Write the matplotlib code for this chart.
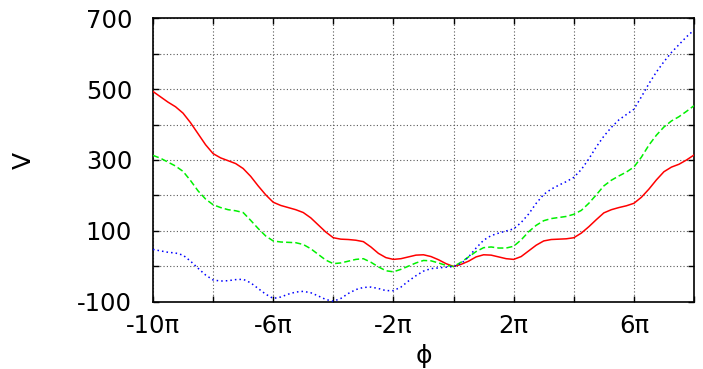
import numpy as np
import matplotlib
matplotlib.use("Agg")
import matplotlib.pyplot as plt

# phi in units of pi, every quarter pi from -10pi to 8pi
phi_over_pi = np.arange(-40, 33) / 4

v_red = [493, 478, 463, 450, 432, 405, 374, 343, 318, 306,
         298, 290, 276, 254, 227, 202, 181, 172, 166, 160,
         152, 137, 117, 97, 81, 77, 76, 74, 70, 55,
         37, 25, 20, 22, 27, 32, 33, 28, 19, 8,
         0, 6, 15, 27, 33, 32, 27, 22, 20, 28,
         44, 60, 72, 76, 77, 78, 81, 94, 112, 132,
         151, 160, 166, 171, 178, 195, 218, 244, 267, 280,
         288, 300, 314]
v_green = [313, 305, 294, 283, 268, 242, 213, 190, 174, 166,
           160, 157, 152, 130, 107, 86, 72, 69, 68, 67,
           62, 50, 34, 18, 8, 10, 15, 20, 22, 12,
           -1, -12, -15, -8, 1, 10, 17, 16, 10, 3,
           0, 12, 27, 42, 53, 55, 52, 52, 57, 75,
           98, 116, 129, 135, 138, 141, 147, 158, 178, 202,
           227, 243, 255, 266, 280, 308, 342, 370, 393, 410,
           422, 437, 453]
v_blue = [48, 44, 40, 38, 32, 15, -5, -24, -38, -41,
          -40, -37, -36, -46, -62, -78, -90, -86, -78, -72,
          -70, -74, -83, -93, -98, -90, -76, -65, -59, -58,
          -62, -68, -68, -58, -41, -26, -13, -6, -4, -2,
          0, 8, 27, 52, 74, 87, 94, 100, 106, 124,
          148, 178, 203, 218, 229, 239, 251, 273, 303, 337,
          367, 392, 413, 428, 443, 478, 515, 548, 577, 603,
          625, 647, 666]

x_tick_mult = [-10, -8, -6, -4, -2, 0, 2, 4, 6, 8]
x_tick_labels = ["-10π", "", "-6π", "", "-2π", "", "2π", "", "6π", ""]
y_ticks = [-100, 0, 100, 200, 300, 400, 500, 600, 700]
y_tick_labels = ["-100", "", "100", "", "300", "", "500", "", "700"]

plt.rcParams["font.family"] = ["DejaVu Sans"]

phi = phi_over_pi * np.pi

fig = plt.figure(figsize=(7.03, 3.69), dpi=100)
ax = fig.add_axes([0.2176, 0.1816, 0.7696, 0.7696])

ax.plot(phi, v_red, color="#ff0000", lw=1.1, ls="-", zorder=3)
ax.plot(phi, v_green, color="#00f000", lw=1.1, ls=(0, (4, 2)), zorder=3)
ax.plot(phi, v_blue, color="#0000ff", lw=1.1, ls=(0, (1, 2)), zorder=3)

ax.set_xlim(-10 * np.pi, 8 * np.pi)
ax.set_ylim(-100, 700)
ax.set_xticks(np.array(x_tick_mult) * np.pi)
ax.set_xticklabels(x_tick_labels)
ax.set_yticks(y_ticks)
ax.set_yticklabels(y_tick_labels)

ax.grid(True, color="0.35", ls=(0, (1, 2)), lw=0.8)
ax.tick_params(direction="in", length=4, width=1, top=True, right=True,
               labelsize=17.5, colors="black")
ax.tick_params(axis="x", pad=9)
ax.tick_params(axis="y", pad=15)
for s in ax.spines.values():
    s.set_linewidth(1.2)
    s.set_color("black")

ax.set_xlabel("ϕ", fontsize=18, labelpad=4)
ax.set_ylabel("V", fontsize=18, labelpad=30)

fig.savefig("out.png", dpi=100)
